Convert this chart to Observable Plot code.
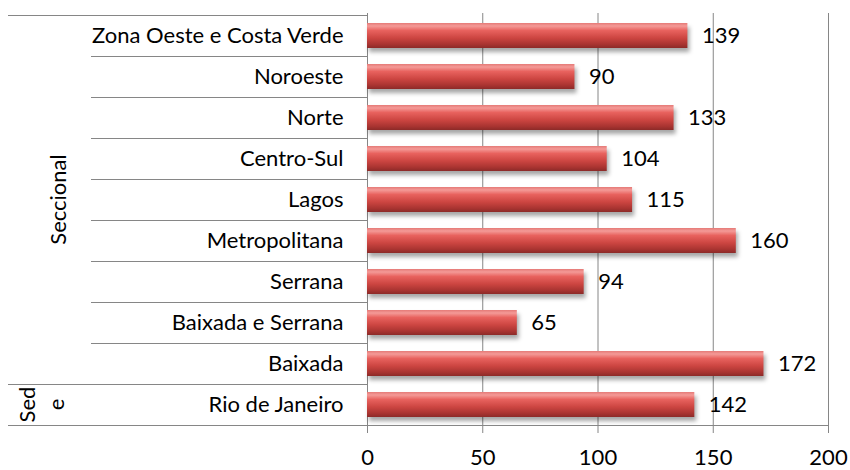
<!DOCTYPE html>
<html><head><meta charset="utf-8">
<script src="https://cdn.jsdelivr.net/npm/d3@7"></script>
<script src="https://cdn.jsdelivr.net/npm/@observablehq/plot@0.6"></script>
<style>body{margin:0;background:#fff} svg{font-family:Lato, sans-serif}</style>
</head><body><div id="chart"></div>
<script>
const categories = ["Zona Oeste e Costa Verde","Noroeste","Norte","Centro-Sul","Lagos","Metropolitana","Serrana","Baixada e Serrana","Baixada","Rio de Janeiro"];
const values = [139,90,133,104,115,160,94,65,172,142];
const groups = ["Seccional","Seccional","Seccional","Seccional","Seccional","Seccional","Seccional","Seccional","Seccional","Sede"];
const groupNames = ["Seccional","Sede"];
const groupLabelLines = [["Seccional"],["Sed","e"]];
const xTicks = [0,50,100,150,200];

(function(){
const data = categories.map((c,i)=>({category:c, value:values[i], group:groups[i]}));

const defs = () => {
  const d = d3.create("svg:defs");
  const g = d.append("linearGradient").attr("id","barGrad").attr("x1",0).attr("y1",0).attr("x2",0).attr("y2",1);
  [[0,"#e57a77"],[0.12,"#f49a97"],[0.3,"#e8625e"],[0.6,"#cc4541"],[0.85,"#a93431"],[1,"#8c2a28"]]
    .forEach(([o,c])=>g.append("stop").attr("offset",o).attr("stop-color",c));
  return d.node();
};

const FS = 22;
const plot = Plot.plot({
  width:850, height:470, marginLeft:367, marginRight:22, marginTop:13, marginBottom:44,
  style:{fontFamily:"Lato, sans-serif", fontSize:FS+"px", color:"#000", background:"#fff", overflow:"visible"},
  x:{domain:[0,200]},
  y:{domain:categories, paddingInner:0.4, paddingOuter:0.2},
  marks:[
    defs,
    Plot.gridX(xTicks, {stroke:"#868686", strokeOpacity:1}),
    Plot.barX(data,{x:"value", y:"category", fill:"url(#barGrad)"}),
    Plot.text(data,{x:"value", y:"category", text: d=>String(d.value), dx:14, textAnchor:"start", fontSize:FS, fill:"#000"}),
    Plot.axisX({ticks:xTicks, tickSize:7, tickPadding:16, label:null, fontSize:FS, stroke:"#868686", fill:"#000"}),
    Plot.axisY({tickSize:0, tickPadding:24, label:null, fontSize:FS, fill:"#000"})
  ]
});
document.getElementById("chart").appendChild(plot);

const svg = d3.select(plot);
svg.selectAll('g[aria-label="bar"]').style("filter","drop-shadow(2px 4px 2px rgba(0,0,0,0.35))");
const ys = plot.scale("y"), xs = plot.scale("x");
const bw = ys.bandwidth;
const step = ys.step ?? (ys.range[1]-ys.range[0])/categories.length;
const cy = c => ys.apply(c) + bw/2;
const rowTop = c => cy(c) - step/2;
const rowBot = c => cy(c) + step/2;
const x0 = xs.apply(0), xEnd = xs.apply(200);
const outerX = 8, innerX = 91;
const lineG = svg.append("g").attr("stroke","#868686").attr("stroke-width",1);
const hline = (y,xa,xb) => lineG.append("line").attr("x1",xa).attr("x2",xb).attr("y1",Math.round(y)+0.5).attr("y2",Math.round(y)+0.5);
hline(rowTop(categories[0]), outerX, x0);
for (let i=0;i<categories.length-1;i++){
  const sameGroup = groups[i]===groups[i+1];
  hline(rowBot(categories[i]), sameGroup?innerX:outerX, x0);
}
hline(rowBot(categories[categories.length-1]), outerX, xEnd);

const labelX = [[58],[27,56]];
groupNames.forEach((g,gi)=>{
  const cats = categories.filter((c,i)=>groups[i]===g);
  const yc = d3.mean(cats, cy);
  const lines = groupLabelLines[gi];
  const t = svg.append("text").attr("transform",`translate(${labelX[gi][0]},${yc}) rotate(-90)`)
    .attr("text-anchor","middle").attr("font-size",FS).attr("fill","#000");
  lines.forEach((l,li)=>{
    t.append("tspan").attr("x",0).attr("y", li===0?0:(labelX[gi][li]-labelX[gi][0])).attr("dy","0.35em").text(l);
  });
});
})();
</script></body></html>
